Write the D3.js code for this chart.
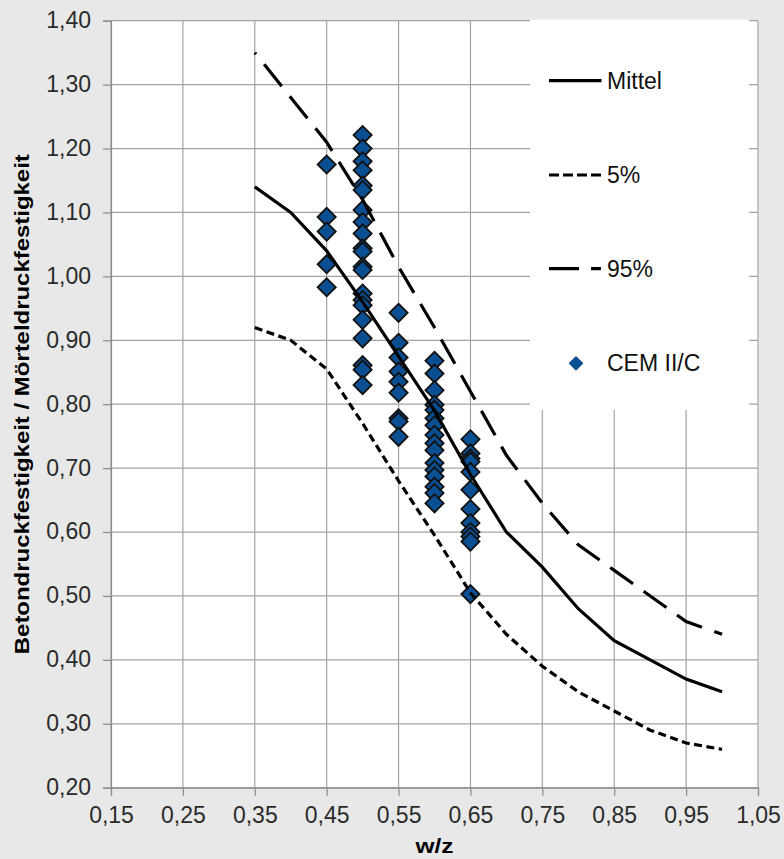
<!DOCTYPE html>
<html>
<head>
<meta charset="utf-8">
<script src="https://cdn.jsdelivr.net/npm/d3@7"></script>
<style>
  body { margin: 0; background: #e8e8e8; }
  svg text { font-family: "Liberation Sans", Arial, sans-serif; }
</style>
</head>
<body>
<div id="chart"></div>
<script>
// ----- ----- ----- ----- ----- ----- ----- ----- -----
// DATA
var wz = [0.35, 0.40, 0.45, 0.50, 0.55, 0.60, 0.65, 0.70, 0.75, 0.80, 0.85, 0.90, 0.95, 1.00];
var mittel = [1.14, 1.10, 1.04, 0.96, 0.875, 0.79, 0.69, 0.60, 0.545, 0.48, 0.43, 0.40, 0.37, 0.35];
var p5 = [0.92, 0.90, 0.855, 0.77, 0.68, 0.595, 0.505, 0.44, 0.39, 0.35, 0.32, 0.29, 0.27, 0.26];
var p95 = [1.35, 1.28, 1.21, 1.12, 1.015, 0.92, 0.82, 0.72, 0.645, 0.58, 0.54, 0.50, 0.46, 0.44];

// CEM II/C points, grouped by w/z
var cemWz = [0.45, 0.50, 0.55, 0.60, 0.65];
var cemValues = [
    [1.175, 1.093, 1.07, 1.019, 0.983],
    [1.221, 1.200, 1.180, 1.166, 1.142, 1.135, 1.104, 1.085, 1.067, 1.044, 1.039,
     1.015, 1.010, 0.973, 0.963, 0.955, 0.932, 0.903, 0.861, 0.854, 0.830],
    [0.943, 0.896, 0.873, 0.851, 0.835, 0.818, 0.778, 0.773, 0.749],
    [0.868, 0.848, 0.822, 0.799, 0.791, 0.778, 0.767, 0.752, 0.739, 0.728, 0.708,
     0.697, 0.687, 0.671, 0.661, 0.645],
    [0.745, 0.723, 0.715, 0.710, 0.694, 0.666, 0.636, 0.614, 0.600, 0.593, 0.585, 0.503]
];

var xTicks = [0.15, 0.25, 0.35, 0.45, 0.55, 0.65, 0.75, 0.85, 0.95, 1.05];
var yTicks = [0.20, 0.30, 0.40, 0.50, 0.60, 0.70, 0.80, 0.90, 1.00, 1.10, 1.20, 1.30, 1.40];
var legendLabels = ["Mittel", "5%", "95%", "CEM II/C"];

// ----- ----- ----- ----- ----- ----- ----- ----- -----
// FIGURE
const size = { width: 784, height: 859 };
const plot = { left: 111, right: 758, top: 20.7, bottom: 787.7 };
const gridColor = "#a3a3a3";
const diamondBlue = "#0b4f93";

var svg = d3.select("#chart")
    .append("svg")
    .attr("width", size.width)
    .attr("height", size.height);

svg.append("rect")
    .attr("width", size.width)
    .attr("height", size.height)
    .attr("fill", "#e8e8e8");

var x_scale = d3.scaleLinear()
    .domain([0.15, 1.05])
    .range([plot.left, plot.right]);

var y_scale = d3.scaleLinear()
    .domain([0.20, 1.40])
    .range([plot.bottom, plot.top]);

var commaFormat = function (d) { return d3.format(".2f")(d).replace(".", ","); };

// plot area
svg.append("rect")
    .attr("x", plot.left)
    .attr("y", plot.top)
    .attr("width", plot.right - plot.left)
    .attr("height", plot.bottom - plot.top)
    .attr("fill", "white");

// grid
svg.append("g")
    .selectAll("line")
    .data(xTicks)
    .join("line")
    .attr("x1", function (d) { return x_scale(d) })
    .attr("x2", function (d) { return x_scale(d) })
    .attr("y1", plot.top)
    .attr("y2", plot.bottom)
    .attr("stroke", gridColor)
    .attr("stroke-width", 1.2);

svg.append("g")
    .selectAll("line")
    .data(yTicks)
    .join("line")
    .attr("x1", plot.left)
    .attr("x2", plot.right)
    .attr("y1", function (d) { return y_scale(d) })
    .attr("y2", function (d) { return y_scale(d) })
    .attr("stroke", gridColor)
    .attr("stroke-width", 1.2);

// legend box (covers grid)
svg.append("rect")
    .attr("x", 530)
    .attr("y", plot.top - 1)
    .attr("width", 219)
    .attr("height", 410 - plot.top + 1)
    .attr("fill", "white");

// axes
var x_axis = d3.axisBottom(x_scale)
    .tickValues(xTicks)
    .tickSize(8)
    .tickPadding(11)
    .tickFormat(commaFormat);

var gx = svg.append("g")
    .attr("transform", "translate(0," + plot.bottom + ")")
    .call(x_axis);

var y_axis = d3.axisLeft(y_scale)
    .tickValues(yTicks)
    .tickSize(8)
    .tickPadding(12)
    .tickFormat(commaFormat);

var gy = svg.append("g")
    .attr("transform", "translate(" + plot.left + ",0)")
    .call(y_axis);

[gx, gy].forEach(function (g) {
    g.select(".domain").attr("stroke", "#8c8c8c").attr("stroke-width", 1.2);
    g.selectAll(".tick line").attr("stroke", "#8c8c8c").attr("stroke-width", 1.2);
    g.selectAll(".tick text")
        .attr("font-size", 23)
        .attr("font-family", "'Liberation Sans', Arial, sans-serif")
        .attr("fill", "#2b2b2b");
});
gy.selectAll(".tick text").attr("dy", "0.3em");

// axis titles
svg.append("text")
    .attr("x", (plot.left + plot.right) / 2)
    .attr("y", 853)
    .attr("text-anchor", "middle")
    .attr("font-size", 21)
    .attr("font-weight", "bold")
    .attr("textLength", 38)
    .attr("lengthAdjust", "spacingAndGlyphs")
    .text("w/z");

svg.append("text")
    .attr("transform", "translate(29," + ((plot.top + plot.bottom) / 2) + ") rotate(-90)")
    .attr("text-anchor", "middle")
    .attr("font-size", 20)
    .attr("font-weight", "bold")
    .attr("textLength", 500)
    .attr("lengthAdjust", "spacingAndGlyphs")
    .text("Betondruckfestigkeit / Mörteldruckfestigkeit");

// ----- ----- ----- ----- ----- ----- ----- ----- -----
// DIAMONDS
var diamond = d3.symbol().type(d3.symbolSquare).size(165);

var points = [];
cemWz.forEach(function (w, i) {
    cemValues[i].forEach(function (v) { points.push({ x: w, y: v }); });
});

svg.append("g")
    .selectAll("path")
    .data(points)
    .join("path")
    .attr("d", diamond)
    .attr("transform", function (d) {
        return "translate(" + x_scale(d.x) + "," + y_scale(d.y) + ") rotate(45)";
    })
    .attr("fill", diamondBlue)
    .attr("stroke", "#111")
    .attr("stroke-width", 1.8);

// ----- ----- ----- ----- ----- ----- ----- ----- -----
// CURVES
var series = [
    { name: "Mittel", values: mittel, dash: null, offset: 0 },
    { name: "5%", values: p5, dash: "8,4.5", offset: 0 },
    { name: "95%", values: p95, dash: "28,13", offset: 26 }
];

var line = d3.line()
    .x(function (d) { return x_scale(d.x) })
    .y(function (d) { return y_scale(d.y) });

series.forEach(function (s) {
    var data = wz.map(function (w, i) { return { x: w, y: s.values[i] }; });
    svg.append("path")
        .datum(data)
        .attr("fill", "none")
        .attr("stroke", "black")
        .attr("stroke-width", 3.2)
        .attr("stroke-dasharray", s.dash)
        .attr("stroke-dashoffset", s.offset)
        .attr("d", line);
});

// ----- ----- ----- ----- ----- ----- ----- ----- -----
// LEGEND
var legendY = [80.7, 175, 268.7, 363.3];
var legendDash = [null, "10,4", "30,12,10,40", null];

legendLabels.forEach(function (label, i) {
    if (i < 3) {
        svg.append("line")
            .attr("x1", 549)
            .attr("x2", 601.5)
            .attr("y1", legendY[i])
            .attr("y2", legendY[i])
            .attr("stroke", "black")
            .attr("stroke-width", 3.2)
            .attr("stroke-dasharray", legendDash[i]);
    } else {
        svg.append("path")
            .attr("d", d3.symbol().type(d3.symbolSquare).size(110))
            .attr("transform", "translate(576," + legendY[i] + ") rotate(45)")
            .attr("fill", diamondBlue);
    }
    svg.append("text")
        .attr("x", 607)
        .attr("y", legendY[i] + 8)
        .attr("font-size", 23)
        .attr("fill", "#111")
        .text(label);
});
</script>
</body>
</html>
